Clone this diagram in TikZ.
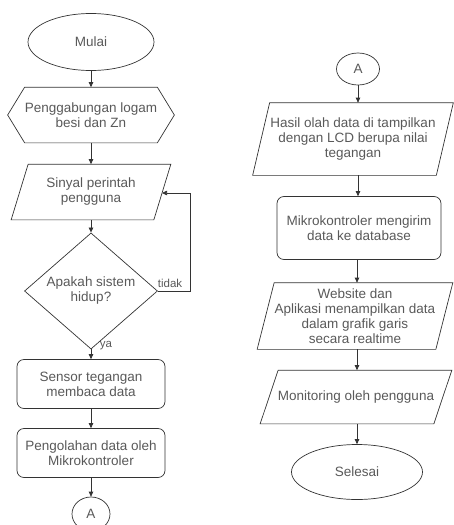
\documentclass[tikz,border=0pt]{standalone}
\usepackage{fontspec}
\setmainfont{Liberation Sans}
\usetikzlibrary{shapes.geometric,arrows.meta,calc}
\newcommand\paradraw[2]{%
  \draw[line] ($(#1.north west)+(#2,0)$) -- ($(#1.north east)+(#2,0)$) --
        ($(#1.south east)+(-#2,0)$) -- ($(#1.south west)+(-#2,0)$) -- cycle;}
\begin{document}
\begin{tikzpicture}[x=1pt,y=-1pt,
  line width=0.7pt,
  line/.style={draw=black!80},
  txt/.style={font=\fontsize{13.5}{15}\selectfont, text=black!65, align=center},
  term/.style={txt, ellipse, draw=black!80, inner sep=0pt},
  proc/.style={txt, rectangle, rounded corners=7pt, draw=black!80, inner sep=0pt, minimum width=148pt, minimum height=49pt},
  decision/.style={txt, diamond, draw=black!80, inner sep=0pt},
  pbox/.style={txt, rectangle, inner sep=0pt},
  lbl/.style={font=\fontsize{11.5}{13}\selectfont, text=black!65, inner sep=0pt},
  arr/.style={-{Triangle[length=5pt,width=4.5pt]}, line width=0.7pt, draw=black!80},
]
\useasboundingbox (0,0) rectangle (453,525);

% left column
\node[term, minimum width=126pt, minimum height=57pt] (mulai) at (91,42) {Mulai};
\node[pbox, minimum width=166pt, minimum height=55pt] (hex) at (91,115) {Penggabungan logam\\besi dan Zn};
\draw[line] (hex.west) -- ($(hex.north west)+(17,0)$) -- ($(hex.north east)+(-17,0)$) -- (hex.east)
      -- ($(hex.south east)+(-17,0)$) -- ($(hex.south west)+(17,0)$) -- cycle;
\node[pbox, minimum width=142pt, minimum height=55pt] (sinyal) at (91,192) {Sinyal perintah\\pengguna};
\paradraw{sinyal}{8.5}
\node[decision, minimum width=133pt, minimum height=93pt] (cek) at (91,291) {Apakah sistem\\hidup?};
\node[proc] (sensor) at (91,384) {Sensor tegangan\\membaca data};
\node[proc] (olah) at (91,453) {Pengolahan data oleh\\Mikrokontroler};
\node[term, minimum width=38pt, minimum height=34pt] (a1) at (91,514) {A};

\draw[arr] (mulai) -- (hex);
\draw[arr] (hex) -- (sinyal);
\draw[arr] (sinyal) -- (cek);
\draw[arr] (cek) -- (sensor);
\draw[arr] (sensor) -- (olah);
\draw[arr] (olah) -- (a1);
\coordinate (loopin) at (162,193);
\draw[arr] (cek.east) -- (190,291) |- (loopin);
\node[lbl] (tidak) at (170,283) {tidak};
\node[lbl] (ya) at (106,346) {ya};

% right column
\node[term, minimum width=43pt, minimum height=32pt] (a2) at (358,69) {A};
\node[pbox, minimum width=183pt, minimum height=72pt] (hasil) at (353,139) {Hasil olah data di tampilkan\\dengan LCD berupa nilai\\tegangan};
\paradraw{hasil}{8.5}
\node[proc, minimum width=164pt, minimum height=63pt] (kirim) at (359,228) {Mikrokontroler mengirim\\data ke database};
\node[pbox, minimum width=178pt, minimum height=66pt] (web) at (355,316) {Website dan\\Aplikasi menampilkan data\\dalam grafik garis\\secara realtime};
\paradraw{web}{8.5}
\node[pbox, minimum width=173pt, minimum height=53pt] (mon) at (356,397) {Monitoring oleh pengguna};
\paradraw{mon}{9}
\node[term, minimum width=131pt, minimum height=55pt] (selesai) at (357,472) {Selesai};

\draw[arr] (a2.south) -- (a2.south |- hasil.north);
\draw[arr] (hasil.south -| a2.south) -- (a2.south |- kirim.north);
\draw[arr] (kirim.south -| 357,0) -- (357,0 |- web.north);
\draw[arr] (web.south -| 357,0) -- (357,0 |- mon.north);
\draw[arr] (mon.south -| 357,0) -- (357,0 |- selesai.north);
\end{tikzpicture}
\end{document}
